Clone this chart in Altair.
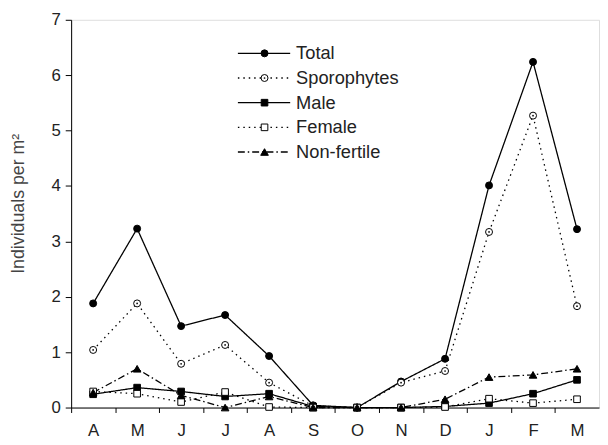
import altair as alt
import pandas as pd

months = ["A", "M", "J", "J", "A", "S", "O", "N", "D", "J", "F", "M"]
series_names = ["Total", "Sporophytes", "Male", "Female", "Non-fertile"]
total = [1.88, 3.23, 1.47, 1.67, 0.93, 0.04, 0.0, 0.47, 0.88, 4.01, 6.24, 3.22]
sporophytes = [1.04, 1.88, 0.79, 1.13, 0.45, 0.03, 0.0, 0.45, 0.66, 3.17, 5.27, 1.83]
male = [0.24, 0.36, 0.29, 0.20, 0.25, 0.02, 0.0, 0.0, 0.02, 0.08, 0.25, 0.50]
female = [0.29, 0.25, 0.10, 0.28, 0.01, 0.0, 0.0, 0.0, 0.01, 0.16, 0.08, 0.15]
nonfertile = [0.27, 0.70, 0.22, 0.0, 0.20, 0.0, 0.0, 0.0, 0.15, 0.55, 0.59, 0.70]
values = [total, sporophytes, male, female, nonfertile]

styles = {
    "Total": dict(dash=[1, 0], shape="circle", fill="black", dot=False),
    "Sporophytes": dict(dash=[1.5, 4], shape="circle", fill="white", dot=True),
    "Male": dict(dash=[1, 0], shape="square", fill="black", dot=False),
    "Female": dict(dash=[1.5, 4], shape="square", fill="white", dot=False),
    "Non-fertile": dict(dash=[7, 3, 1.5, 3], shape="triangle-up", fill="black", dot=False),
}
sizes = {"circle": 50, "square": 45, "triangle-up": 60}

W, H = 535, 393
FONT = "Liberation Sans"

rows = []
for name, vals in zip(series_names, values):
    for i, v in enumerate(vals):
        rows.append({"series": name, "m": i, "v": v})
df = pd.DataFrame(rows)

label_expr = "[" + ",".join("'%s'" % m for m in months) + "][datum.value]"

x_enc = alt.X(
    "m:Q",
    scale=alt.Scale(domain=[-0.5, 11.5], nice=False, zero=False),
    axis=alt.Axis(
        values=list(range(12)),
        labelExpr=label_expr,
        title=None,
        grid=False,
        tickOffset=-W / 24,
        labelOffset=W / 24,
        tickSize=5,
        tickColor="black",
        domainColor="black",
        labelFont=FONT,
        labelFontSize=17,
        labelColor="#222",
        labelPadding=10,
        labelFlush=False,
        labelOverlap=False,
    ),
)
y_enc = alt.Y(
    "v:Q",
    scale=alt.Scale(domain=[0, 7], nice=False),
    axis=alt.Axis(
        values=list(range(8)),
        title="Individuals per m²",
        grid=False,
        tickSize=6,
        tickColor="black",
        domainColor="black",
        labelFont=FONT,
        labelFontSize=17,
        labelColor="#222",
        labelPadding=5,
        titleFont=FONT,
        titleFontSize=18,
        titleFontWeight="normal",
        titleColor="#444",
        titleAngle=-90,
        titleAlign="center",
        titleBaseline="middle",
        titleX=-53,
        titleY=186,
    ),
)

layers = []
for name in series_names:
    st = styles[name]
    d = df[df.series == name]
    base = alt.Chart(d).encode(x=x_enc, y=y_enc)
    layers.append(base.mark_line(color="black", strokeWidth=1.3, strokeDash=st["dash"]))
for name in series_names:
    st = styles[name]
    d = df[df.series == name]
    base = alt.Chart(d).encode(x=x_enc, y=y_enc)
    layers.append(base.mark_point(shape=st["shape"], filled=True, fill=st["fill"],
                                  stroke="black", strokeWidth=1, size=sizes[st["shape"]], opacity=1))
    if st["dot"]:
        layers.append(base.mark_point(shape="circle", filled=True, color="black", size=3, opacity=1))

# legend
one = pd.DataFrame({"a": [0]})
for i, name in enumerate(series_names):
    st = styles[name]
    ly = 34 + 25 * i
    lc = alt.Chart(one)
    layers.append(lc.mark_rule(color="black", strokeWidth=1.3, strokeDash=st["dash"]).encode(
        x=alt.value(169), x2=alt.value(222), y=alt.value(ly)))
    layers.append(lc.mark_point(shape=st["shape"], filled=True, fill=st["fill"], stroke="black",
                                strokeWidth=1, size=sizes[st["shape"]], opacity=1).encode(
        x=alt.value(196), y=alt.value(ly)))
    if st["dot"]:
        layers.append(lc.mark_point(shape="circle", filled=True, color="black", size=3, opacity=1).encode(
            x=alt.value(196), y=alt.value(ly)))
    layers.append(lc.mark_text(text=name, align="left", baseline="middle", font=FONT, fontSize=18.5,
                               color="#222").encode(x=alt.value(228), y=alt.value(ly)))

chart = alt.layer(*layers).properties(
    width=W, height=H,
    autosize=alt.AutoSizeParams(type="none"),
    padding={"left": 64, "top": 9, "right": 1, "bottom": 35},
).configure_view(stroke=None).configure(background="white")

chart.save("out.html", embed_options={"renderer": "svg", "actions": False})
